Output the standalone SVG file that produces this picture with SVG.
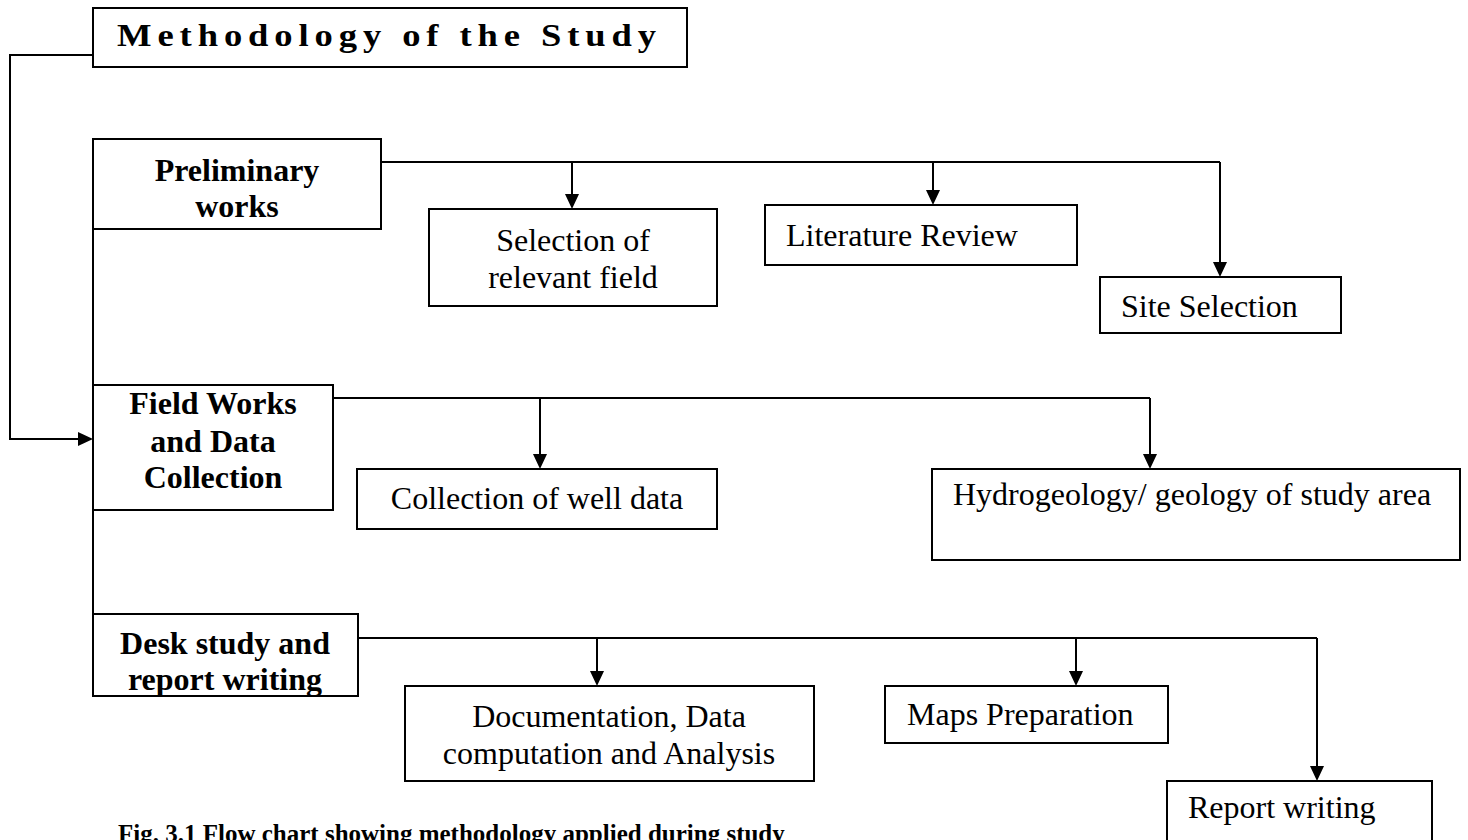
<svg xmlns="http://www.w3.org/2000/svg" width="1468" height="840" viewBox="0 0 1468 840">
<style>
rect{fill:#fff;stroke:#000;stroke-width:2}
.c{fill:none;stroke:#000;stroke-width:2}
text{font-family:"Liberation Serif","Times New Roman",serif;fill:#000}
.n{font-size:32px}
.b{font-size:32px;font-weight:bold}
.m{text-anchor:middle}
</style>
<g id="connectors">
<path class="c" d="M93,55 H10 V439 H80"/>
<path d="M78,432 L93,439 L78,446 Z"/>
<path class="c" d="M93,229 V614"/>
<path class="c" d="M381,162 H1220"/>
<path class="c" d="M572,162 V196"/>
<path class="c" d="M933,162 V192"/>
<path class="c" d="M1220,162 V264"/>
<path class="c" d="M333,398 H1150"/>
<path class="c" d="M540,398 V456"/>
<path class="c" d="M1150,398 V456"/>
<path class="c" d="M358,638 H1317"/>
<path class="c" d="M597,638 V673"/>
<path class="c" d="M1076,638 V673"/>
<path class="c" d="M1317,638 V768"/>
<path d="M565,194 H579 L572,209 Z"/>
<path d="M926,190 H940 L933,205 Z"/>
<path d="M1213,262 H1227 L1220,277 Z"/>
<path d="M533,454 H547 L540,469 Z"/>
<path d="M1143,454 H1157 L1150,469 Z"/>
<path d="M590,671 H604 L597,686 Z"/>
<path d="M1069,671 H1083 L1076,686 Z"/>
<path d="M1310,766 H1324 L1317,781 Z"/>
</g>
<g id="title">
<rect x="93" y="8" width="594" height="59"/>
<text x="117" y="46" textLength="545" lengthAdjust="spacingAndGlyphs" style="font-size:31px;font-weight:bold;letter-spacing:5px">Methodology of the Study</text>
</g>
<g id="prelim">
<rect x="93" y="139" width="288" height="90"/>
<text x="237" y="181" class="b m">Preliminary</text>
<text x="237" y="217" class="b m">works</text>
</g>
<g id="selection">
<rect x="429" y="209" width="288" height="97"/>
<text x="573" y="251" class="n m">Selection of</text>
<text x="573" y="288" class="n m">relevant field</text>
</g>
<g id="literature">
<rect x="765" y="205" width="312" height="60"/>
<text x="786" y="246" class="n">Literature Review</text>
</g>
<g id="site">
<rect x="1100" y="277" width="241" height="56"/>
<text x="1121" y="317" class="n">Site Selection</text>
</g>
<g id="field">
<rect x="93" y="385" width="240" height="125"/>
<text x="213" y="414" class="b m">Field Works</text>
<text x="213" y="452" class="b m">and Data</text>
<text x="213" y="488" class="b m">Collection</text>
</g>
<g id="well">
<rect x="357" y="469" width="360" height="60"/>
<text x="537" y="509" class="n m">Collection of well data</text>
</g>
<g id="hydro">
<rect x="932" y="469" width="528" height="91"/>
<text x="953" y="505" class="n">Hydrogeology/ geology of study area</text>
</g>
<g id="desk">
<rect x="93" y="614" width="265" height="82"/>
<text x="225" y="654" class="b m">Desk study and</text>
<text x="225" y="690" class="b m">report writing</text>
</g>
<g id="doc">
<rect x="405" y="686" width="409" height="95"/>
<text x="609" y="727" class="n m">Documentation, Data</text>
<text x="609" y="764" class="n m">computation and Analysis</text>
</g>
<g id="maps">
<rect x="885" y="686" width="283" height="57"/>
<text x="907" y="725" class="n">Maps Preparation</text>
</g>
<g id="report">
<rect x="1167" y="781" width="265" height="80"/>
<text x="1188" y="818" class="n">Report writing</text>
</g>
<text id="caption" x="118" y="842" style="font-size:25px;font-weight:bold">Fig. 3.1 Flow chart showing methodology applied during study</text>
</svg>
